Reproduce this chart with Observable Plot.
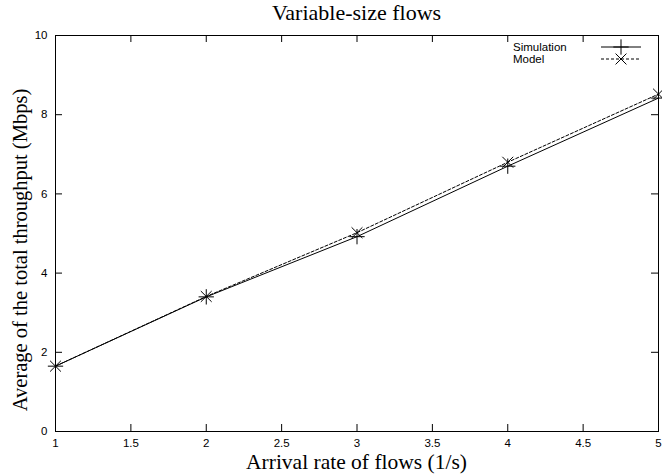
<!DOCTYPE html>
<html>
<head>
<meta charset="utf-8">
<script src="https://cdn.jsdelivr.net/npm/d3@7"></script>
<script src="https://cdn.jsdelivr.net/npm/@observablehq/plot@0.6"></script>
<style>
  html, body { margin: 0; padding: 0; background: #fff; }
  #chart svg { display: block; }
</style>
</head>
<body>
<div id="chart"></div>
<script>
const title = "Variable-size flows";
const xLabel = "Arrival rate of flows (1/s)";
const yLabel = "Average of the total throughput (Mbps)";
const arrivalRates = [1, 2, 3, 4, 5];
const simulation = [1.65, 3.4, 4.92, 6.7, 8.42];
const model = [1.65, 3.41, 5.02, 6.8, 8.52];
const seriesNames = ["Simulation", "Model"];
const xTicks = [1, 1.5, 2, 2.5, 3, 3.5, 4, 4.5, 5];
const yTicks = [0, 2, 4, 6, 8, 10];

const W = 662, H = 475;
const mL = 55, mR = 4, mT = 35, mB = 44;
const plotW = W - mL - mR, plotH = H - mT - mB;
const tickLen = 7;
const dxTick = tickLen * (5 - 1) / plotW;
const dyTick = tickLen * (10 - 0) / plotH;

const simData = arrivalRates.map((x, i) => ({x, y: simulation[i]}));
const modData = arrivalRates.map((x, i) => ({x, y: model[i]}));

const chart = Plot.plot({
  width: W,
  height: H,
  marginLeft: mL, marginRight: mR, marginTop: mT, marginBottom: mB,
  style: {fontFamily: "'Liberation Sans', Arial, sans-serif", fontSize: "11.5px", color: "#000", background: "#fff"},
  x: {domain: [1, 5]},
  y: {domain: [0, 10]},
  marks: [
    Plot.axisX(xTicks, {tickSize: 0, tickPadding: 7, label: null, tickFormat: d => String(d)}),
    Plot.axisY(yTicks, {tickSize: 0, tickPadding: 8, label: null, tickFormat: d => String(d)}),
    // inward ticks (gnuplot style, mirrored)
    Plot.ruleX(xTicks, {x: d => d, y1: 0, y2: dyTick, stroke: "#000", strokeWidth: 1}),
    Plot.ruleX(xTicks, {x: d => d, y1: 10, y2: 10 - dyTick, stroke: "#000", strokeWidth: 1}),
    Plot.ruleY(yTicks, {y: d => d, x1: 1, x2: 1 + dxTick, stroke: "#000", strokeWidth: 1}),
    Plot.ruleY(yTicks, {y: d => d, x1: 5, x2: 5 - dxTick, stroke: "#000", strokeWidth: 1}),
    Plot.lineY(simData, {x: "x", y: "y", stroke: "#000", strokeWidth: 1}),
    Plot.lineY(modData, {x: "x", y: "y", stroke: "#000", strokeWidth: 1, strokeDasharray: "3,2"}),
    Plot.dot(simData, {x: "x", y: "y", symbol: "plus", r: 5, stroke: "#000", fill: "none", strokeWidth: 1}),
    Plot.dot(modData, {x: "x", y: "y", symbol: "times", r: 5, stroke: "#000", fill: "none", strokeWidth: 1}),
    Plot.frame({stroke: "#000", strokeWidth: 1})
  ]
});

document.getElementById("chart").appendChild(chart);

const svg = d3.select(chart);
const serif = "'Liberation Serif', 'Times New Roman', serif";
const cx = mL + plotW / 2;

svg.append("text")
  .attr("x", cx).attr("y", 20)
  .attr("text-anchor", "middle")
  .attr("font-family", serif).attr("font-size", 22).attr("fill", "#000")
  .text(title);

svg.append("text")
  .attr("x", cx).attr("y", 469)
  .attr("text-anchor", "middle")
  .attr("font-family", serif).attr("font-size", 21.5).attr("fill", "#000")
  .text(xLabel);

svg.append("text")
  .attr("transform", `translate(27,250) rotate(-90)`)
  .attr("text-anchor", "middle")
  .attr("font-family", serif).attr("font-size", 20.5).attr("fill", "#000")
  .text(yLabel);

// legend
const legend = svg.append("g").attr("font-family", "'Liberation Sans', Arial, sans-serif").attr("font-size", 11.5);
const legY = [47, 59];
seriesNames.forEach((name, i) => {
  legend.append("text").attr("x", 513).attr("y", legY[i]).attr("dy", "0.35em")
    .attr("text-anchor", "start").attr("fill", "#000").text(name);
  legend.append("line").attr("x1", 601).attr("x2", 641).attr("y1", legY[i]).attr("y2", legY[i])
    .attr("stroke", "#000").attr("stroke-width", 1)
    .attr("stroke-dasharray", i === 1 ? "3,2" : null);
  const sym = d3.symbol(i === 0 ? d3.symbolPlus : d3.symbolTimes, Math.PI * 25);
  legend.append("path").attr("d", sym()).attr("transform", `translate(621,${legY[i]})`)
    .attr("fill", "none").attr("stroke", "#000").attr("stroke-width", 1);
});
</script>
</body>
</html>
